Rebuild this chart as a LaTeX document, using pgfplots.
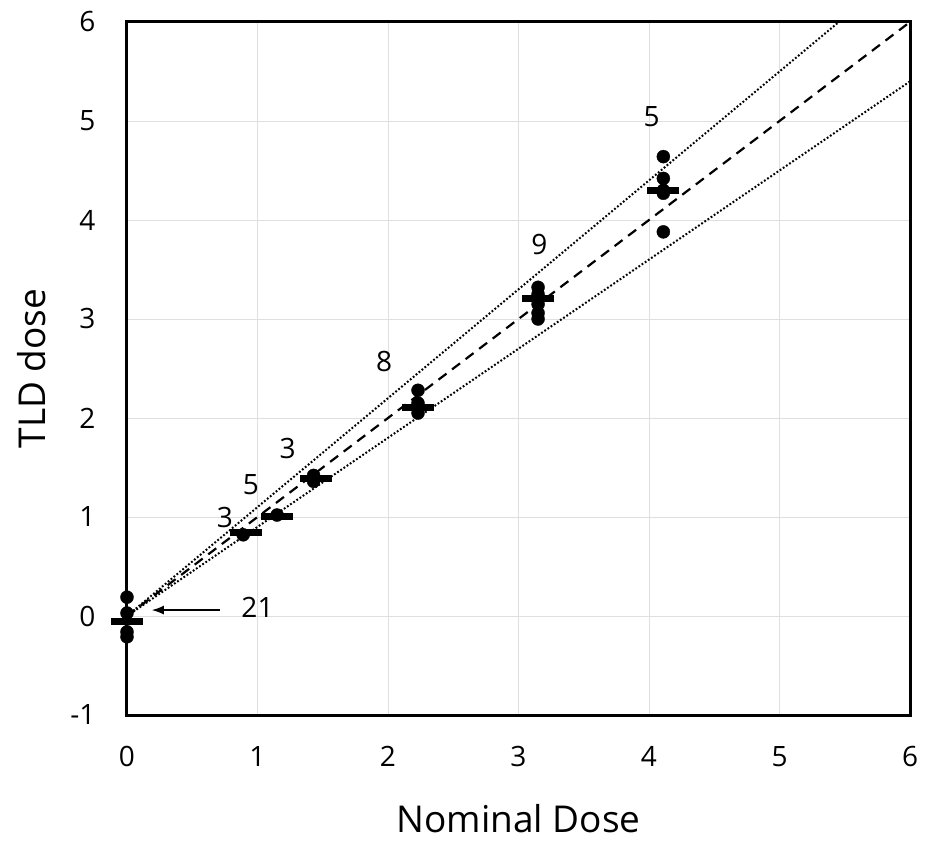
\documentclass[border=0pt]{standalone}
\usepackage{pgfplots}
\pgfplotsset{compat=1.18}
\usepackage{fontspec}
\setmainfont{Open Sans}
\usetikzlibrary{arrows.meta}
\begin{document}
\begin{tikzpicture}
\useasboundingbox (-127pt,-127pt) rectangle (801pt,715pt);
\begin{axis}[
  at={(0,0)}, anchor=south west,
  scale only axis, width=783pt, height=693pt,
  xmin=0, xmax=6, ymin=-1, ymax=6,
  xtick={0,...,6}, ytick={-1,0,...,6},
  major tick length=0pt,
  grid=major, grid style={gray!25, line width=0.8pt},
  axis line style={line width=3pt},
  /pgf/number format/assume math mode=true,
  ticklabel style={font=\fontsize{28}{32}\selectfont},
  xticklabel style={yshift=-28pt},
  yticklabel style={xshift=-28pt},
  xlabel={Nominal Dose}, ylabel={TLD dose},
  label style={font=\fontsize{37}{42}\selectfont},
  xlabel style={at={(axis description cs:0.5,0)}, anchor=center, yshift=-104pt},
  ylabel style={at={(axis description cs:0,0.5)}, anchor=center, rotate=0, yshift=95pt},
  clip=false,
]
% reference lines
\addplot[black, line width=2.2pt, dash pattern=on 10pt off 7pt] coordinates {(0,0) (6,6)};
\addplot[black, line width=2pt, dash pattern=on 1.8pt off 2pt] coordinates {(0,0) (5.4545,6)};
\addplot[black, line width=2pt, dash pattern=on 1.8pt off 2pt] coordinates {(0,0) (6,5.4)};
% individual measurements
\addplot[only marks, mark=*, mark size=6.5pt, black] coordinates {
 (0,0.19) (0,0.03) (0,-0.16) (0,-0.21)
 (0.89,0.82)
 (1.15,1.02)
 (1.43,1.36) (1.43,1.42)
 (2.23,2.28) (2.23,2.15) (2.23,2.05)
 (3.15,3.32) (3.15,3.25) (3.15,3.15) (3.15,3.06) (3.15,3.00)
 (4.11,4.64) (4.11,4.42) (4.11,4.30) (4.11,4.27) (4.11,3.88)
};
% means
\addplot[only marks, mark=-, mark size=16pt, black, mark options={line width=7pt}] coordinates {
 (0,-0.06) (0.91,0.84) (1.15,1.0) (1.45,1.39) (2.23,2.11) (3.15,3.21) (4.11,4.30)
};
% counts
\begin{scope}[every node/.style={font=\fontsize{28}{32}\selectfont}]
\node at (axis cs:1.0,0.09) {21};
\node at (axis cs:0.75,1.0) {3};
\node at (axis cs:0.95,1.33) {5};
\node at (axis cs:1.23,1.69) {3};
\node at (axis cs:1.97,2.57) {8};
\node at (axis cs:3.16,3.75) {9};
\node at (axis cs:4.02,5.04) {5};
\end{scope}
\draw[-{Latex[length=12pt,width=9pt]}, line width=1.5pt] (axis cs:0.71,0.06) -- (axis cs:0.19,0.06);
\end{axis}
\end{tikzpicture}
\end{document}
